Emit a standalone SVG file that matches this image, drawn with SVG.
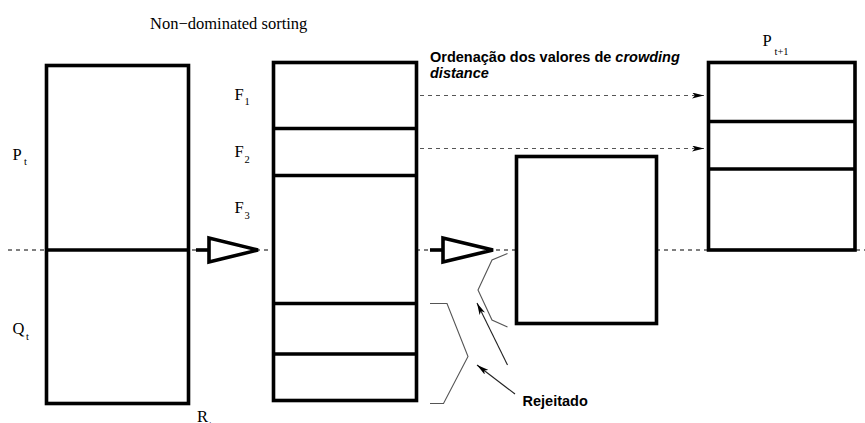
<svg xmlns="http://www.w3.org/2000/svg" width="865" height="423" viewBox="0 0 865 423">
  <style>
    .box { fill: #fff; stroke: #000; stroke-width: 3.6; }
    .div { stroke: #000; stroke-width: 3.6; }
    .lbl { font-family: "Liberation Serif", "Times New Roman", serif; font-size: 16.5px; fill: #000; }
    .sub { font-family: "Liberation Serif", "Times New Roman", serif; font-size: 10.5px; fill: #000; }
    .note { font-family: "Liberation Sans", Arial, sans-serif; font-size: 14.5px; font-weight: bold; fill: #000; }
    .axis { stroke: #000; stroke-width: 1; stroke-dasharray: 4 4; fill: none; }
    .flow { stroke: #555; stroke-width: 1; stroke-dasharray: 4 4; fill: none; }
    .brace { stroke: #555; stroke-width: 1.1; fill: none; }
    .point { stroke: #222; stroke-width: 1.1; fill: none; }
    .hollow { fill: #fff; stroke: #000; stroke-width: 3.6; stroke-linejoin: miter; }
  </style>
  <defs>
    <marker id="head" viewBox="0 0 12 6" refX="12" refY="3" markerWidth="12" markerHeight="6" markerUnits="userSpaceOnUse" orient="auto">
      <path d="M0,0 L12,3 L0,6 L3,3 Z" fill="#000"/>
    </marker>
  </defs>

  <rect width="865" height="423" fill="#fff"/>

  <!-- title -->
  <text class="lbl" x="150" y="29">Non−dominated sorting</text>

  <!-- connectors -->
  <g id="connectors">
    <line class="axis" x1="8" y1="250" x2="865" y2="250"/>
    <line class="flow" x1="420" y1="95.5" x2="704" y2="95.5" marker-end="url(#head)"/>
    <line class="flow" x1="420" y1="148.5" x2="704" y2="148.5" marker-end="url(#head)"/>
    <!-- hollow arrows -->
    <line class="div" x1="196" y1="250" x2="209" y2="250"/>
    <polygon class="hollow" points="209,238 209,262 258,250"/>
    <line class="div" x1="430" y1="250" x2="443" y2="250"/>
    <polygon class="hollow" points="443,238 443,262 493,250"/>
    <!-- rejected brackets -->
    <polyline class="brace" points="430,303.5 447,303.5 468,356.5 443.5,403.5 430,403.5"/>
    <polyline class="brace" points="507.5,253.5 492,260 478,290 492,320 507.5,327"/>
    <line class="point" x1="507.5" y1="365" x2="477" y2="303" marker-end="url(#head)"/>
    <line class="point" x1="515" y1="394" x2="477" y2="365" marker-end="url(#head)"/>
  </g>

  <!-- R_t = P_t ∪ Q_t -->
  <g id="node-rt">
    <rect class="box" x="46.5" y="65.5" width="142" height="338"/>
    <line class="div" x1="46.5" y1="250" x2="188.5" y2="250"/>
    <text class="lbl" x="12.5" y="159.5">P</text>
    <text class="sub" x="24" y="165">t</text>
    <text class="lbl" x="12.5" y="334">Q</text>
    <text class="sub" x="26" y="340">t</text>
    <text class="lbl" x="197" y="422">R</text>
    <text class="sub" x="209" y="428">t</text>
  </g>

  <!-- fronts F1, F2, F3 ... -->
  <g id="node-fronts">
    <rect class="box" x="273.5" y="62.5" width="143" height="338"/>
    <line class="div" x1="273.5" y1="128.5" x2="416.5" y2="128.5"/>
    <line class="div" x1="273.5" y1="175.5" x2="416.5" y2="175.5"/>
    <line class="div" x1="273.5" y1="303.5" x2="416.5" y2="303.5"/>
    <line class="div" x1="273.5" y1="354" x2="416.5" y2="354"/>
    <text class="lbl" x="234.5" y="99.5">F</text>
    <text class="sub" x="244.5" y="105">1</text>
    <text class="lbl" x="234.5" y="157">F</text>
    <text class="sub" x="244.5" y="162.5">2</text>
    <text class="lbl" x="234.5" y="213">F</text>
    <text class="sub" x="244.5" y="218.5">3</text>
  </g>

  <!-- crowding distance label -->
  <g id="node-crowding">
    <text class="note" x="430" y="62">Ordenação dos valores de <tspan font-style="italic">crowding</tspan></text>
    <text class="note" x="430" y="78" font-style="italic">distance</text>
  </g>

  <!-- rejected part of F3 -->
  <g id="node-rejected-box">
    <rect class="box" x="516.5" y="156.5" width="140" height="167"/>
  </g>

  <g id="node-rejected-label">
    <text class="note" x="522.5" y="406">Rejeitado</text>
  </g>

  <!-- P_t+1 -->
  <g id="node-pnext">
    <rect class="box" x="708.5" y="62.5" width="146.5" height="187.5"/>
    <line class="div" x1="708.5" y1="121.5" x2="855" y2="121.5"/>
    <line class="div" x1="708.5" y1="169" x2="855" y2="169"/>
    <text class="lbl" x="762.5" y="46">P</text>
    <text class="sub" x="774.5" y="55">t+1</text>
  </g>
</svg>
